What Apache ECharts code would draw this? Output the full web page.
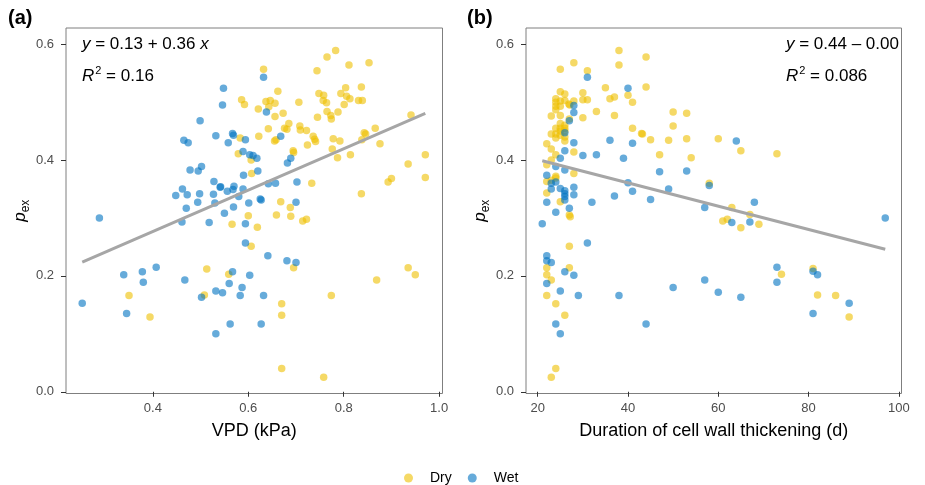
<!DOCTYPE html>
<html><head><meta charset="utf-8">
<script src="https://cdn.jsdelivr.net/npm/echarts@6/dist/echarts.min.js"></script>
<style>html,body{margin:0;padding:0;background:#fff}#c{width:925px;height:485px}</style>
</head><body><div id="c"></div>
<script>
// ---- data ----
const groups = ['Dry', 'Wet'];
const dryVPD = [[0.783,0.589],[0.765,0.578],[0.744,0.554],[0.811,0.564],[0.853,0.568],[0.632,0.557],[0.804,0.525],[0.837,0.526],[0.662,0.519],[0.748,0.515],[0.758,0.512],[0.794,0.515],[0.806,0.510],[0.813,0.506],[0.831,0.503],[0.839,0.503],[0.757,0.503],[0.764,0.499],[0.801,0.496],[0.637,0.501],[0.646,0.503],[0.656,0.498],[0.643,0.492],[0.621,0.488],[0.706,0.500],[0.586,0.504],[0.592,0.496],[0.765,0.484],[0.788,0.483],[0.773,0.477],[0.774,0.471],[0.673,0.481],[0.656,0.475],[0.745,0.474],[0.941,0.478],[0.685,0.463],[0.676,0.455],[0.681,0.453],[0.642,0.454],[0.708,0.459],[0.709,0.452],[0.722,0.451],[0.736,0.441],[0.739,0.436],[0.741,0.432],[0.622,0.441],[0.778,0.437],[0.792,0.433],[0.843,0.447],[0.846,0.445],[0.866,0.455],[0.838,0.435],[0.658,0.435],[0.655,0.433],[0.724,0.426],[0.876,0.428],[0.694,0.416],[0.695,0.413],[0.776,0.419],[0.787,0.404],[0.814,0.409],[0.971,0.409],[0.935,0.393],[0.971,0.370],[0.900,0.368],[0.893,0.362],[0.733,0.360],[0.837,0.342],[0.668,0.328],[0.688,0.318],[0.659,0.305],[0.689,0.303],[0.714,0.295],[0.722,0.298],[0.619,0.284],[0.606,0.251],[0.600,0.304],[0.566,0.289],[0.583,0.438],[0.579,0.411],[0.606,0.400],[0.607,0.377],[0.695,0.214],[0.935,0.214],[0.950,0.202],[0.869,0.193],[0.774,0.166],[0.670,0.152],[0.670,0.132],[0.670,0.040],[0.758,0.025],[0.350,0.166],[0.394,0.129],[0.513,0.212],[0.559,0.203],[0.508,0.167]];
const wetVPD = [[0.548,0.524],[0.546,0.495],[0.632,0.543],[0.499,0.468],[0.532,0.442],[0.567,0.446],[0.569,0.443],[0.465,0.434],[0.474,0.430],[0.558,0.430],[0.589,0.415],[0.603,0.409],[0.610,0.408],[0.618,0.403],[0.620,0.381],[0.502,0.389],[0.478,0.383],[0.495,0.381],[0.590,0.374],[0.528,0.363],[0.541,0.353],[0.542,0.354],[0.556,0.346],[0.568,0.349],[0.570,0.355],[0.589,0.350],[0.462,0.350],[0.448,0.339],[0.472,0.340],[0.498,0.342],[0.527,0.341],[0.530,0.326],[0.580,0.337],[0.627,0.331],[0.625,0.333],[0.601,0.326],[0.470,0.317],[0.569,0.319],[0.550,0.308],[0.594,0.435],[0.638,0.483],[0.668,0.441],[0.682,0.395],[0.689,0.403],[0.702,0.362],[0.642,0.359],[0.657,0.360],[0.700,0.327],[0.641,0.235],[0.681,0.226],[0.700,0.223],[0.632,0.166],[0.627,0.117],[0.603,0.201],[0.288,0.300],[0.494,0.327],[0.461,0.293],[0.518,0.292],[0.594,0.290],[0.594,0.257],[0.252,0.153],[0.339,0.202],[0.378,0.207],[0.407,0.215],[0.380,0.189],[0.345,0.135],[0.467,0.193],[0.567,0.207],[0.560,0.187],[0.587,0.180],[0.532,0.174],[0.546,0.171],[0.583,0.166],[0.502,0.163],[0.562,0.117],[0.532,0.100]];
const dryDur = [[38,0.589],[38,0.564],[44,0.578],[28,0.568],[25,0.557],[31,0.554],[35,0.525],[44,0.526],[25,0.518],[26,0.514],[30,0.516],[30,0.504],[31,0.504],[36,0.506],[37,0.509],[40,0.512],[41,0.500],[24,0.506],[24,0.500],[24,0.493],[25,0.502],[25,0.493],[26.9,0.497],[28,0.502],[27.1,0.495],[24,0.487],[26,0.503],[23,0.476],[25,0.477],[30,0.473],[33,0.484],[37,0.477],[50,0.483],[53,0.481],[27,0.471],[50,0.459],[41,0.455],[43,0.446],[43.2,0.445],[53,0.437],[45,0.435],[49,0.434],[25,0.463],[26,0.460],[24,0.455],[25,0.455],[26,0.455],[25,0.450],[26,0.450],[24,0.445],[25,0.443],[26,0.440],[24,0.438],[23,0.445],[26,0.433],[22,0.428],[23,0.419],[24,0.409],[28,0.414],[47,0.409],[54,0.404],[23,0.400],[22,0.392],[28,0.377],[22,0.363],[23,0.365],[24,0.369],[24,0.372],[58,0.360],[22,0.343],[25,0.328],[27,0.305],[27.2,0.302],[60,0.437],[65,0.416],[73,0.411],[63,0.318],[67,0.306],[61,0.295],[62,0.298],[69,0.289],[65,0.283],[74,0.203],[81,0.213],[82,0.167],[86,0.166],[89,0.129],[27,0.251],[22,0.214],[22,0.202],[23,0.193],[27,0.214],[22,0.166],[24,0.152],[26,0.132],[24,0.040],[23,0.025]];
const wetDur = [[31,0.543],[40,0.524],[28,0.494],[28,0.482],[27,0.468],[26,0.447],[36,0.434],[41,0.429],[28,0.430],[26,0.416],[30,0.408],[33,0.409],[39,0.403],[25,0.403],[24,0.389],[26,0.383],[47,0.380],[53,0.381],[22,0.374],[24,0.362],[23,0.360],[40,0.361],[58,0.356],[23,0.350],[25,0.351],[26,0.347],[26,0.342],[26,0.337],[28,0.353],[28,0.340],[41,0.346],[49,0.350],[37,0.338],[32,0.327],[45,0.332],[22,0.327],[26,0.331],[27,0.317],[24,0.310],[57,0.318],[64,0.433],[68,0.327],[63,0.292],[67,0.293],[97,0.300],[73,0.215],[73,0.189],[81,0.208],[82,0.202],[57,0.193],[60,0.172],[65,0.163],[89,0.153],[81,0.135],[21,0.290],[31,0.257],[22,0.235],[22,0.226],[23,0.223],[22,0.187],[26,0.207],[28,0.201],[25,0.174],[29,0.166],[38,0.166],[50,0.180],[24,0.117],[44,0.117],[25,0.100]];
const fitVPD = [0.134, 0.357];      // intercept, slope
const fitDur = [0.441, -0.00201];   // intercept, slope
const rangeVPD = [0.252, 0.971];
const rangeDur = [21, 97];
const yTicks = [0, 0.2, 0.4, 0.6];
const xTicksVPD = [0.4, 0.6, 0.8, 1.0];
const xTicksDur = [20, 40, 60, 80, 100];

// ---- chart ----
const FONT = 'Liberation Sans, Arial, sans-serif';
const COLORS = {Dry: '#EFC000', Wet: '#0073C2'};
const fitLine = (fit, range) => range.map(x => [x, fit[0] + fit[1] * x]);

function xAxis(grid, min, max, ticks, name, fmt) {
  return {
    gridIndex: grid, type: 'value', min, max,
    axisLine: {show: false},
    axisTick: {show: true, customValues: ticks, length: 5, lineStyle: {color: '#333', width: 1}},
    axisLabel: {customValues: ticks, formatter: fmt, color: '#4d4d4d', fontSize: 13, fontFamily: FONT, margin: 8},
    splitLine: {show: false},
    name, nameLocation: 'middle', nameGap: 29,
    nameTextStyle: {fontSize: 18, color: '#000', fontFamily: FONT}
  };
}
function yAxis(grid) {
  return {
    gridIndex: grid, type: 'value', min: -0.003, max: 0.628,
    axisLine: {show: false},
    axisTick: {show: true, customValues: yTicks, length: 5, lineStyle: {color: '#333', width: 1}},
    axisLabel: {customValues: yTicks, formatter: v => v.toFixed(1), color: '#4d4d4d', fontSize: 13, fontFamily: FONT, margin: 12},
    splitLine: {show: false},
    name: '{p|p}{s|ex}', nameLocation: 'middle', nameGap: 31, nameRotate: 90,
    nameTextStyle: {
      rich: {
        p: {fontSize: 17, fontStyle: 'italic', fontFamily: FONT, color: '#000', verticalAlign: 'top'},
        s: {fontSize: 12, fontFamily: FONT, color: '#000', verticalAlign: 'bottom', padding: [8, 0, 0, 0]}
      }
    }
  };
}
function scatter(name, data, idx) {
  return {
    name, type: 'scatter', data, xAxisIndex: idx, yAxisIndex: idx,
    symbolSize: 7.5, itemStyle: {color: COLORS[name], opacity: 0.6}, z: 2
  };
}
function line(data, idx) {
  return {
    type: 'line', data: data, xAxisIndex: idx, yAxisIndex: idx, symbol: 'none', silent: true,
    lineStyle: {color: '#A6A6A6', width: 3}, z: 3
  };
}
const rich = {
  t: {fontSize: 17, fontFamily: FONT, color: '#000', verticalAlign: 'bottom'},
  i: {fontSize: 17, fontFamily: FONT, fontStyle: 'italic', color: '#000', verticalAlign: 'bottom'},
  sup: {fontSize: 11, fontFamily: FONT, color: '#000', verticalAlign: 'top', padding: [0, 0, 9, 1]}
};
function eqText(left, top, str) {
  return {type: 'text', left, top, style: {text: str, rich, fontSize: 17, fontFamily: FONT}};
}

const chart = echarts.init(document.getElementById('c'), null, {renderer: 'canvas'});
chart.setOption({
  animation: false,
  backgroundColor: '#fff',
  grid: [
    {left: 66, top: 28, width: 376.5, height: 365.5, show: true, borderColor: '#7f7f7f', borderWidth: 1},
    {left: 526, top: 28, width: 375.5, height: 365.5, show: true, borderColor: '#7f7f7f', borderWidth: 1}
  ],
  xAxis: [
    xAxis(0, 0.218, 1.007, xTicksVPD, 'VPD (kPa)', v => v.toFixed(1)),
    xAxis(1, 17.4, 100.6, xTicksDur, 'Duration of cell wall thickening (d)', v => String(v))
  ],
  yAxis: [yAxis(0), yAxis(1)],
  legend: {
    data: groups, left: 399, top: 466, icon: 'circle', itemWidth: 9, itemHeight: 9, itemGap: 16,
    textStyle: {fontSize: 14, color: '#000', fontFamily: FONT, padding: [0, 0, 0, 12]}
  },
  series: [
    scatter('Dry', dryVPD, 0), scatter('Wet', wetVPD, 0),
    scatter('Dry', dryDur, 1), scatter('Wet', wetDur, 1),
    line(fitLine(fitVPD, rangeVPD), 0), line(fitLine(fitDur, rangeDur), 1)
  ],
  graphic: [
    {type: 'text', left: 8, top: 8, style: {text: '(a)', fontSize: 20, fontWeight: 'bold', fontFamily: FONT, fill: '#000'}},
    {type: 'text', left: 467, top: 8, style: {text: '(b)', fontSize: 20, fontWeight: 'bold', fontFamily: FONT, fill: '#000'}},
    eqText(82, 36, '{i|y}{t| = 0.13 + 0.36 }{i|x}'),
    eqText(82, 65, '{i|R}{sup|2}{t| = 0.16}'),
    eqText(786, 36, '{i|y}{t| = 0.44 \u2013 0.00}'),
    eqText(786, 65, '{i|R}{sup|2}{t| = 0.086}')
  ]
});
</script></body></html>
